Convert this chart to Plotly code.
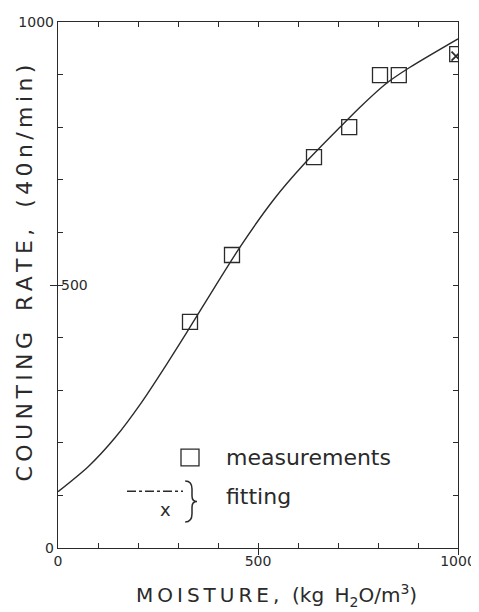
import plotly.graph_objects as go

# ---- data ----
meas_moisture = [330, 435, 640, 728, 805, 852, 998]
meas_rate = [430, 557, 743, 800, 899, 899, 939]

fit_moisture = [0, 76, 143, 209, 268, 322, 455, 540, 613, 713, 755, 822, 880, 1000]
fit_rate = [107, 155, 210, 277, 345, 410, 572, 663, 728, 806, 838, 884, 914, 968]

fit_point_moisture = [995]
fit_point_rate = [935]

tick_values = [0, 100, 200, 300, 400, 500, 600, 700, 800, 900, 1000]
x_tick_text = ["0", "", "", "", "", "500", "", "", "", "", "1000"]
y_tick_text = ["0", "", "", "", "", "", "", "", "", "", "1000"]
y_inside_ticks = [500]
y_inside_text = ["500"]

INK = "#2a2a2a"
FONT = "DejaVu Sans"
TS = "\u2009"  # thin space for letter spacing

def spaced(s):
    return TS.join(list(s))

fig = go.Figure()

fig.add_trace(go.Scatter(
    x=fit_moisture, y=fit_rate, mode="lines",
    line=dict(color=INK, width=1.4, shape="spline", smoothing=0.8),
    showlegend=False, hoverinfo="skip"))

fig.add_trace(go.Scatter(
    x=meas_moisture, y=meas_rate, mode="markers",
    marker=dict(symbol="square-open", size=15, color=INK, line=dict(width=1.3, color=INK)),
    showlegend=False))

fig.add_trace(go.Scatter(
    x=fit_point_moisture, y=fit_point_rate, mode="markers",
    marker=dict(symbol="x-thin-open", size=9, color=INK, line=dict(width=1.8, color=INK)),
    showlegend=False))

# invisible trace to activate overlay axes
fig.add_trace(go.Scatter(x=[None], y=[None], xaxis="x2", yaxis="y2", showlegend=False))

# the page body adds an 8px offset, so the figure is sized to fit the 479x612 window
fig.update_layout(
    width=471, height=604,
    margin=dict(l=50, r=21, t=14, b=64, autoexpand=False),
    paper_bgcolor="white", plot_bgcolor="white",
    font=dict(family=FONT, color=INK),
    xaxis=dict(range=[0, 1000], tickmode="array", tickvals=tick_values, ticktext=x_tick_text,
               ticks="inside", ticklen=5, tickwidth=1.2, tickcolor=INK, automargin=False,
               showline=True, linecolor=INK, linewidth=1.4, mirror="ticks",
               showgrid=False, zeroline=False, tickfont=dict(size=14, color=INK)),
    yaxis=dict(range=[0, 1000], tickmode="array", tickvals=tick_values, ticktext=y_tick_text,
               ticks="inside", ticklen=5, tickwidth=1.2, tickcolor=INK, automargin=False,
               showline=True, linecolor=INK, linewidth=1.4, mirror="ticks",
               showgrid=False, zeroline=False, tickfont=dict(size=14, color=INK)),
    xaxis2=dict(overlaying="x", side="bottom", range=[0, 1000], tickmode="array",
                tickvals=[0, 500, 1000], ticktext=["", "", ""], ticks="outside", ticklen=6,
                tickwidth=1.2, tickcolor=INK, showline=False, showgrid=False, zeroline=False,
                automargin=False),
    yaxis2=dict(overlaying="y", side="left", range=[0, 1000], tickmode="array",
                tickvals=y_inside_ticks, ticktext=y_inside_text, ticks="outside", ticklen=7,
                tickwidth=1.2, tickcolor=INK, ticklabelposition="inside", automargin=False,
                showline=False, showgrid=False, zeroline=False,
                tickfont=dict(size=14, color=INK)),
)

# axis titles (letter-spaced lettering)
y_title = spaced("COUNTING") + "   " + spaced("RATE,") + "   " + spaced("(40n/min)")
x_title = spaced("MOISTURE,") + "  " + "(kg" + TS + " H<sub>2</sub>O/m<sup>3</sup>)"

fig.add_annotation(text=y_title, xref="paper", yref="paper", x=-0.085, y=0.522,
                   xanchor="center", yanchor="middle", textangle=-90, showarrow=False,
                   font=dict(size=22, color=INK, family=FONT))
fig.add_annotation(text=x_title, xref="paper", yref="paper", x=0.545, y=-0.091,
                   xanchor="center", yanchor="middle", showarrow=False,
                   font=dict(size=20, color=INK, family=FONT))

# legend (drawn)
fig.add_shape(type="rect", xref="paper", yref="paper", x0=0.3075, x1=0.3525, y0=0.156, y1=0.188,
              line=dict(color=INK, width=1.3))
fig.add_annotation(text="measurements", xref="paper", yref="paper", x=0.415, y=0.172,
                   xanchor="left", yanchor="middle", showarrow=False,
                   font=dict(size=22, color=INK, family=FONT))
fig.add_shape(type="line", xref="paper", yref="paper", x0=0.1725, x1=0.3125, y0=0.108, y1=0.108,
              line=dict(color=INK, width=1.4, dash="dashdot"))
fig.add_annotation(text="x", xref="paper", yref="paper", x=0.2675, y=0.074,
                   xanchor="center", yanchor="middle", showarrow=False,
                   font=dict(size=18, color=INK, family=FONT))
fig.add_shape(type="path", xref="paper", yref="paper",
              path="M 0.318,0.1274 Q 0.335,0.1274 0.335,0.112 L 0.335,0.099 Q 0.335,0.0884 0.3475,0.0884 "
                   "Q 0.335,0.0884 0.335,0.078 L 0.335,0.065 Q 0.335,0.0494 0.318,0.0494",
              line=dict(color=INK, width=1.5))
fig.add_annotation(text="fitting", xref="paper", yref="paper", x=0.415, y=0.097,
                   xanchor="left", yanchor="middle", showarrow=False,
                   font=dict(size=22, color=INK, family=FONT))

fig.write_html("out.html")
